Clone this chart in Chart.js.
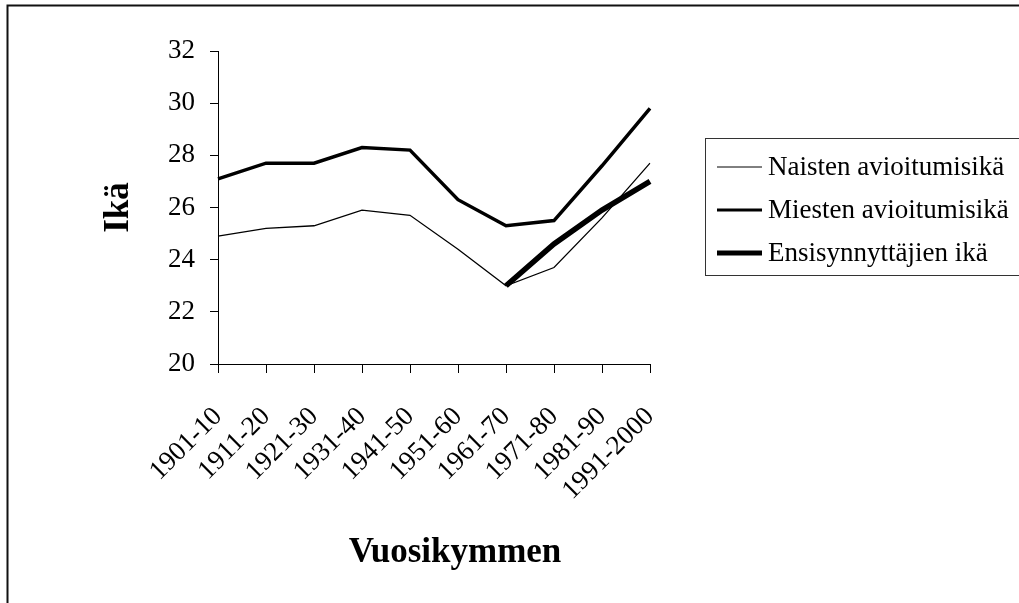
<!DOCTYPE html>
<html>
<head>
<meta charset="utf-8">
<script src="https://cdn.jsdelivr.net/npm/chart.js@4"></script>
<style>
  body { margin: 0; background: #fff; }
  #wrap { position: relative; width: 1019px; height: 603px; }
</style>
</head>
<body>
<div id="wrap"><canvas id="Chart"></canvas></div>
<script>
// decades on the x axis
var decades = ["1901-10", "1911-20", "1921-30", "1931-40", "1941-50", "1951-60", "1961-70", "1971-80", "1981-90", "1991-2000"];
// average ages
var naisten = [24.9, 25.2, 25.3, 25.9, 25.7, 24.4, 23.0, 23.7, 25.6, 27.7];
var miesten = [27.1, 27.7, 27.7, 28.3, 28.2, 26.3, 25.3, 25.5, 27.6, 29.8];
var ensisynnyttajat = [null, null, null, null, null, null, 23.0, 24.6, 25.9, 27.0];
var seriesNames = ["Naisten avioitumisikä", "Miesten avioitumisikä", "Ensisynnyttäjien ikä"];
var yTicks = [20, 22, 24, 26, 28, 30, 32];

var serif = "'Liberation Serif', 'Times New Roman', serif";

// frame round the whole picture, legend box and x title
var extras = {
    id: 'extras',
    afterDraw: function (chart) {
        var c = chart.ctx;
        c.save();
        c.strokeStyle = '#111';
        c.lineWidth = 2;
        c.strokeRect(7.5, 5.5, 1100, 700);

        // legend
        c.lineWidth = 1;
        c.strokeStyle = '#333';
        c.strokeRect(705.5, 138.5, 400, 137);
        var rows = [167, 210, 253];
        var sampleW = [1, 3, 5];
        c.font = '27px ' + serif;
        c.textBaseline = 'middle';
        c.fillStyle = '#000';
        chart.data.datasets.forEach(function (ds, i) {
            c.beginPath();
            c.strokeStyle = '#000';
            c.lineWidth = sampleW[i];
            c.moveTo(717, rows[i]);
            c.lineTo(762, rows[i]);
            c.stroke();
            c.fillText(ds.label, 768, rows[i] + 1);
        });

        // x axis title
        c.font = 'bold 35px ' + serif;
        c.textAlign = 'center';
        c.fillText('Vuosikymmen', 455, 553);
        c.restore();
    }
};

var ctx = document.getElementById('Chart').getContext('2d');
var chart = new Chart(ctx, {
    type: 'line',
    data: {
        labels: decades,
        datasets: [{
            label: seriesNames[0],
            data: naisten,
            borderColor: '#000',
            borderWidth: 1.3,
            pointRadius: 0,
            tension: 0
        }, {
            label: seriesNames[1],
            data: miesten,
            borderColor: '#000',
            borderWidth: 3.5,
            pointRadius: 0,
            tension: 0
        }, {
            label: seriesNames[2],
            data: ensisynnyttajat,
            borderColor: '#000',
            borderWidth: 5.5,
            pointRadius: 0,
            tension: 0,
            spanGaps: false
        }]
    },
    options: {
        responsive: true,
        maintainAspectRatio: false,
        animation: false,
        layout: { padding: { left: 98, top: 51, right: 369, bottom: 0 } },
        plugins: {
            legend: { display: false },
            tooltip: { enabled: false }
        },
        scales: {
            x: {
                offset: false,
                afterFit: function (s) { s.height = 603 - 364; },
                grid: { drawOnChartArea: false, drawTicks: true, tickLength: 9, color: '#000' },
                border: { display: true, color: '#000', width: 1 },
                ticks: {
                    color: '#000',
                    font: { family: serif, size: 27 },
                    minRotation: 45,
                    maxRotation: 45,
                    autoSkip: false,
                    padding: 28
                }
            },
            y: {
                min: 20,
                max: 32,
                afterFit: function (s) { s.width = 218 - 98; },
                afterBuildTicks: function (s) { s.ticks = yTicks.map(function (v) { return { value: v }; }); },
                grid: { drawOnChartArea: false, drawTicks: true, tickLength: 8, color: '#000' },
                border: { display: true, color: '#000', width: 1 },
                ticks: {
                    color: '#000',
                    font: { family: serif, size: 27 },
                    padding: 15
                },
                title: {
                    display: true,
                    text: 'Ikä',
                    color: '#000',
                    font: { family: serif, size: 35, weight: 'bold' },
                    padding: 0
                }
            }
        }
    },
    plugins: [extras]
});
</script>
</body>
</html>
